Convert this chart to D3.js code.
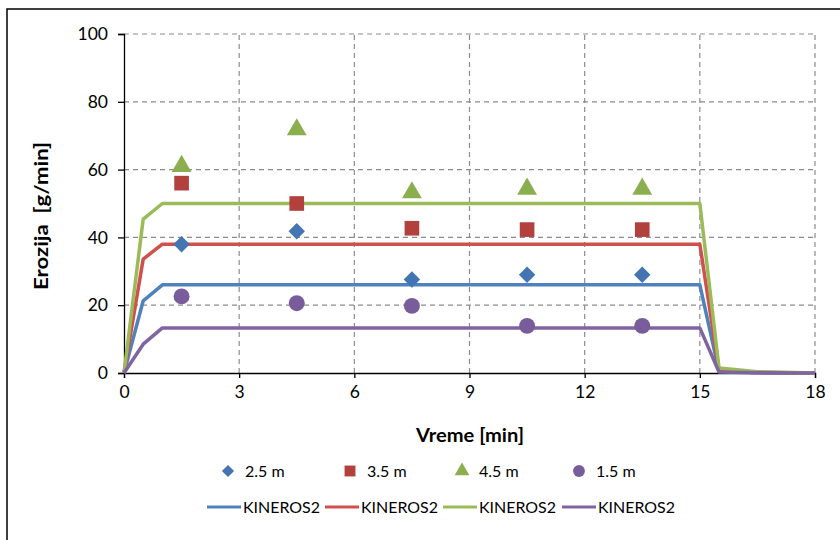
<!DOCTYPE html>
<html><head><meta charset="utf-8">
<script src="https://cdn.jsdelivr.net/npm/d3@7"></script>
<style>body{margin:0;background:#fff}svg{display:block}</style>
</head><body><div id="chart"></div>
<script>
// Data
const obsTimes = [1.5, 4.5, 7.5, 10.5, 13.5];
const obs25 = [38.0, 41.8, 27.6, 29.0, 29.0];
const obs35 = [56.0, 50.0, 42.7, 42.3, 42.3];
const obs45 = [61.0, 71.8, 53.2, 54.3, 54.3];
const obs15 = [22.6, 20.6, 19.8, 13.9, 13.9];
const simTimes = [0, 0.5, 1, 15, 15.5, 16.5, 18];
const sim25 = [0, 21.3, 26.0, 26.0, 0.5, 0.1, 0];
const sim35 = [0, 33.6, 38.0, 38.0, 0.8, 0.2, 0];
const sim45 = [0, 45.4, 50.0, 50.0, 1.5, 0.4, 0];
const sim15 = [0, 8.5, 13.3, 13.3, 0.3, 0.1, 0];
const xTicks = [0, 3, 6, 9, 12, 15, 18];
const yTicks = [0, 20, 40, 60, 80, 100];
const obsLabels = ["2.5 m", "3.5 m", "4.5 m", "1.5 m"];
const simLabel = "KINEROS2";

const W = 840, H = 540;
const svg = d3.select("#chart").append("svg").attr("width", W).attr("height", H);
const font = "Lato, 'Open Sans', sans-serif";

svg.append("rect").attr("x", 7).attr("y", 9).attr("width", 840).attr("height", 540)
  .attr("fill", "#fff").attr("stroke", "#000").attr("stroke-width", 1.5);

const x = d3.scaleLinear().domain([0, 18]).range([124, 815]);
const y = d3.scaleLinear().domain([0, 100]).range([373, 34]);

// grid
const g = svg.append("g");
g.selectAll(".hg").data(yTicks.filter(d => d > 0)).join("line")
  .attr("x1", x(0)).attr("x2", x(18)).attr("y1", d => y(d)).attr("y2", d => y(d))
  .attr("stroke", "#8c8c8c").attr("stroke-dasharray", "5,4").attr("stroke-width", 1.2);
g.selectAll(".vg").data(xTicks.filter(d => d > 0)).join("line")
  .attr("x1", d => x(d)).attr("x2", d => x(d)).attr("y1", y(0)).attr("y2", y(100))
  .attr("stroke", "#8c8c8c").attr("stroke-dasharray", "5,4").attr("stroke-width", 1.2);

// axes
const xAxis = svg.append("g").attr("transform", `translate(0,${y(0)})`)
  .call(d3.axisBottom(x).tickValues(xTicks).tickSize(5).tickPadding(8).tickFormat(d3.format("d")));
const yAxis = svg.append("g").attr("transform", `translate(${x(0)},0)`)
  .call(d3.axisLeft(y).tickValues(yTicks).tickSize(6).tickPadding(10).tickFormat(d3.format("d")));
[xAxis, yAxis].forEach(a => {
  a.select(".domain").attr("stroke", "#000").attr("stroke-width", 1.3);
  a.selectAll(".tick line").attr("stroke", "#000").attr("stroke-width", 1.3);
  a.selectAll(".tick text").attr("font-family", font).attr("font-size", 17.5).attr("fill", "#000");
});

// lines
const sims = [
  {v: sim25, c: "#4F81BD"},
  {v: sim35, c: "#D0504D"},
  {v: sim45, c: "#9BBB59"},
  {v: sim15, c: "#8064A2"}
];
const line = d3.line().x(d => x(d[0])).y(d => y(d[1]));
sims.forEach(s => {
  svg.append("path").datum(simTimes.map((t, i) => [t, s.v[i]]))
    .attr("d", line).attr("fill", "none").attr("stroke", s.c)
    .attr("stroke-width", 3.5).attr("stroke-linejoin", "round");
});

// markers
const obs = [
  {v: obs25, c: "#4275B2", sym: d3.symbolSquare, size: 135, rot: 45},
  {v: obs35, c: "#B2413E", sym: d3.symbolSquare, size: 215, rot: 0},
  {v: obs45, c: "#8BAE4F", sym: d3.symbolTriangle, size: 170, rot: 0},
  {v: obs15, c: "#785C9C", sym: d3.symbolCircle, size: 200, rot: 0}
];
obs.forEach(o => {
  svg.append("g").selectAll("path").data(obsTimes.map((t, i) => [t, o.v[i]])).join("path")
    .attr("transform", d => `translate(${x(d[0])},${y(d[1])}) rotate(${o.rot})`)
    .attr("d", d3.symbol().type(o.sym).size(o.size)).attr("fill", o.c);
});

// axis titles
svg.append("text").attr("x", 470).attr("y", 442).attr("text-anchor", "middle")
  .attr("font-family", font).attr("font-weight", "bold").attr("font-size", 18)
  .attr("textLength", 108).attr("lengthAdjust", "spacingAndGlyphs").text("Vreme [min]");
svg.append("text").attr("transform", "translate(48,216) rotate(-90)").attr("text-anchor", "middle")
  .attr("font-family", font).attr("font-weight", "bold").attr("font-size", 18)
  .attr("textLength", 148).attr("lengthAdjust", "spacingAndGlyphs")
  .attr("xml:space", "preserve").style("white-space", "pre").text("Erozija  [g/min]");

// legend row 1
const lx1 = [228, 350, 462, 579];
obs.forEach((o, i) => {
  svg.append("path").attr("transform", `translate(${lx1[i]},471) rotate(${o.rot})`)
    .attr("d", d3.symbol().type(o.sym).size(o.size * 0.55)).attr("fill", o.c);
  svg.append("text").attr("x", lx1[i] + 17).attr("y", 476.5)
    .attr("font-family", font).attr("font-size", 16).text(obsLabels[i]);
});
// legend row 2
const lx2 = [207, 325, 443, 562];
sims.forEach((s, i) => {
  svg.append("line").attr("x1", lx2[i]).attr("x2", lx2[i] + 34).attr("y1", 507).attr("y2", 507)
    .attr("stroke", s.c).attr("stroke-width", 3);
  svg.append("text").attr("x", lx2[i] + 36).attr("y", 512.5)
    .attr("font-family", font).attr("font-size", 15.5).attr("textLength", 77)
    .attr("lengthAdjust", "spacingAndGlyphs").text(simLabel);
});
</script></body></html>
